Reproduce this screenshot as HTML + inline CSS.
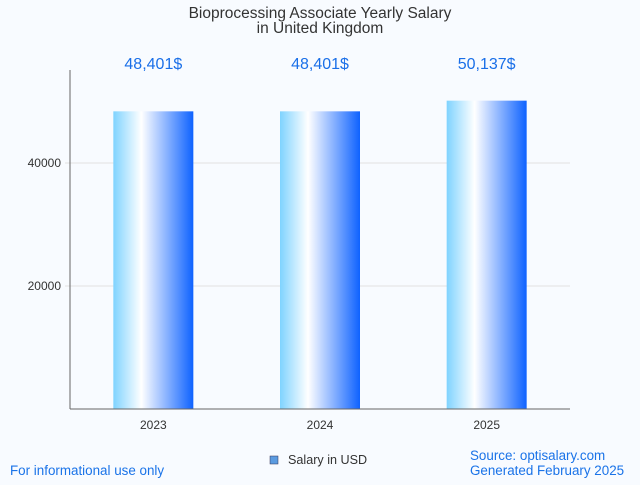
<!DOCTYPE html>
<html><head><meta charset="utf-8"><style>
body{margin:0;background:#f8fbff;font-family:"Liberation Sans",sans-serif;}
</style></head><body>
<svg width="640" height="480" xmlns="http://www.w3.org/2000/svg">
<defs><linearGradient id="g" x1="0" x2="1" y1="0" y2="0">
<stop offset="0" stop-color="#7fd3ff"/><stop offset="0.35" stop-color="#ffffff"/><stop offset="1" stop-color="#0e62ff"/>
</linearGradient></defs>
<rect width="640" height="480" fill="#f8fbff"/>
<text x="320" y="18" text-anchor="middle" font-size="15.5" fill="#333">Bioprocessing Associate Yearly Salary</text>
<text x="320" y="33" text-anchor="middle" font-size="15.5" fill="#333">in United Kingdom</text>
<g id="grid"></g>
<g id="bars"></g>
<line x1="70" y1="70" x2="70" y2="409" stroke="#666"/>
<line x1="70" y1="409" x2="570" y2="409" stroke="#666"/>
<text x="10" y="475" font-size="13.4" fill="#1a73e8">For informational use only</text>
<rect x="270" y="456" width="8" height="8" fill="#5b9be0" stroke="#335" stroke-width="0.5"/>
<text x="288" y="464" font-size="12.6" fill="#333">Salary in USD</text>
<text x="470" y="460" font-size="13.4" fill="#1a73e8">Source: optisalary.com</text>
<text x="470" y="475" font-size="13.4" fill="#1a73e8">Generated February 2025</text>
</svg>
<script>
const categories=["2023","2024","2025"];
const values=[48401,48401,50137];
const valueLabels=["48,401$","48,401$","50,137$"];
const yTicks=[20000,40000];
const ns="http://www.w3.org/2000/svg";
const y=v=>409-v*123/20000;
const band=500/categories.length;
const xc=i=>70+band*(i+0.5);
function mk(t,a,p){const e=document.createElementNS(ns,t);for(const k in a)e.setAttribute(k,a[k]);p.appendChild(e);return e;}
const grid=document.getElementById('grid'),bars=document.getElementById('bars');
yTicks.forEach(t=>{
 const l=mk('line',{x1:65,x2:570,y1:y(t),y2:y(t),stroke:'#e2e2e2'},grid);
 
 
 const tx=mk('text',{x:61,y:y(t)+4,'text-anchor':'end','font-size':12,fill:'#333'},grid);
 tx.textContent=t;
 
 
});
categories.forEach((c,i)=>{
 const r=mk('rect',{x:xc(i)-40,y:y(values[i]),width:80,height:409-y(values[i]),fill:'url(#g)'},bars);
 
 
 const v=mk('text',{x:xc(i),y:69,'text-anchor':'middle','font-size':16,fill:'#1a6fe8'},bars);
 v.textContent=valueLabels[i];
 
 
 const tl=mk('text',{x:xc(i),y:429,'text-anchor':'middle','font-size':12,fill:'#333'},bars);
 tl.textContent=c;
 
 
});
</script>
</body></html>
